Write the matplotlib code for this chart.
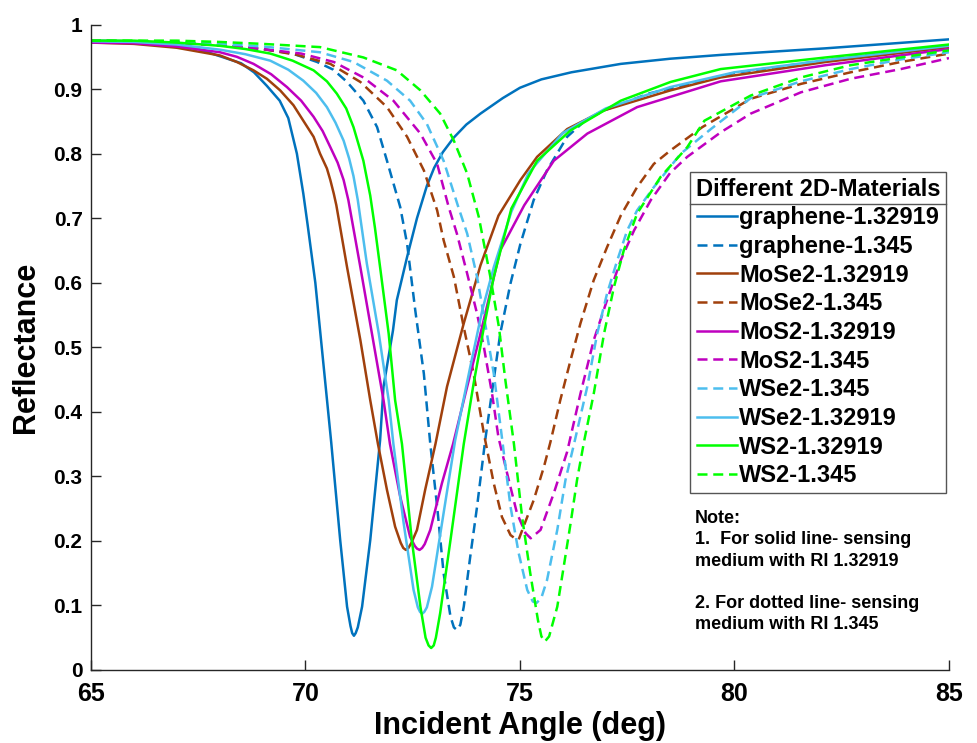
import matplotlib
matplotlib.use('Agg')
import matplotlib.pyplot as plt
from matplotlib.lines import Line2D

plt.rcParams['font.family'] = ['Liberation Sans', 'DejaVu Sans']
plt.rcParams['font.weight'] = 'bold'

# values (angle in deg, reflectance)
gr_sol_x = [65, 66, 67, 67.5, 68, 68.5, 68.8, 69.1, 69.4, 69.6, 69.8, 69.95, 70.05, 70.23, 70.38, 70.6, 70.81, 70.97,
            71.05, 71.09, 71.13, 71.17, 71.22, 71.32, 71.51, 71.74, 71.82, 72.04, 72.13, 72.37, 72.6, 72.83, 73.0,
            73.2, 73.46, 73.75, 74.08, 74.6, 75.0, 75.5, 76.2, 77.35, 78.5, 79.7, 82.1, 85]
gr_sol_y = [0.975, 0.974, 0.968, 0.962, 0.951, 0.94, 0.926, 0.905, 0.882, 0.855, 0.8, 0.738, 0.69, 0.6, 0.5, 0.353, 0.201, 0.098,
            0.068, 0.057, 0.053, 0.057, 0.066, 0.098, 0.201, 0.356, 0.439, 0.526, 0.573, 0.64, 0.7, 0.75, 0.778,
            0.802, 0.825, 0.845, 0.862, 0.886, 0.902, 0.915, 0.926, 0.939, 0.947, 0.953, 0.963, 0.977]

gr_dash_x = [65, 67, 68, 69, 69.7, 70.27, 70.65, 70.97, 71.35, 71.67, 71.9, 72.21, 72.37, 72.56, 72.76, 72.91, 73.07,
             73.22, 73.38, 73.46, 73.53, 73.61, 73.69, 73.84, 74.0, 74.19, 74.54, 74.78, 75.01, 75.32, 75.63,
             76.1, 76.5, 76.96, 78.0, 80.0, 82.5, 85]
gr_dash_y = [0.975, 0.972, 0.968, 0.962, 0.955, 0.942, 0.93, 0.911, 0.882, 0.841, 0.789, 0.717, 0.66, 0.557, 0.459, 0.35, 0.253,
             0.15, 0.083, 0.066, 0.062, 0.07, 0.098, 0.175, 0.253, 0.356, 0.521, 0.599, 0.66, 0.728, 0.774,
             0.826, 0.85, 0.867, 0.893, 0.925, 0.948, 0.968]

mose_sol_x = [65, 66, 67, 68.01, 68.4, 68.79, 69.1, 69.41, 69.72, 69.95, 70.19, 70.34, 70.5, 70.58, 70.66, 70.72, 70.97,
              71.28, 71.51, 71.69, 71.9, 72.09, 72.22, 72.28, 72.34, 72.4, 72.47, 72.6, 72.79, 73.03, 73.3, 73.69,
              74.08, 74.5, 75.01, 75.4, 76.1, 76.96, 78.51, 79.68, 82.13, 85]
mose_sol_y = [0.972, 0.97, 0.964, 0.952, 0.942, 0.929, 0.916, 0.898, 0.875, 0.851, 0.826, 0.8, 0.777, 0.759, 0.738, 0.72, 0.624,
              0.511, 0.418, 0.35, 0.279, 0.222, 0.197, 0.189, 0.186, 0.189, 0.197, 0.217, 0.279, 0.35, 0.439, 0.537,
              0.627, 0.704, 0.759, 0.795, 0.838, 0.867, 0.898, 0.918, 0.942, 0.965]

mose_dash_x = [65, 67, 68, 69, 69.8, 70.58, 71.28, 71.9, 72.37, 72.76, 73.07, 73.22, 73.46, 73.69, 73.92, 74.16,
               74.39, 74.58, 74.78, 74.88, 74.97, 75.1, 75.32, 75.56, 75.71, 75.94, 76.18, 76.41, 76.72, 77.03,
               77.35, 77.73, 78.12, 78.51, 79.25, 80.38, 81.55, 82.71, 83.88, 85]
mose_dash_y = [0.975, 0.972, 0.968, 0.962, 0.953, 0.939, 0.911, 0.872, 0.826, 0.774, 0.712, 0.666, 0.609, 0.531, 0.459, 0.366,
               0.289, 0.237, 0.209, 0.204, 0.202, 0.225, 0.263, 0.315, 0.353, 0.418, 0.48, 0.537, 0.604, 0.655,
               0.704, 0.748, 0.784, 0.805, 0.841, 0.885, 0.908, 0.926, 0.942, 0.955]

mos_sol_x = [65, 66, 67, 68.01, 68.4, 68.79, 69.2, 69.57, 69.9, 70.19, 70.4, 70.58, 70.75, 70.89, 71.0, 71.28, 71.55,
             71.82, 71.97, 72.21, 72.44, 72.55, 72.6, 72.66, 72.72, 72.78, 72.91, 73.18, 73.44, 73.77, 74.08,
             74.39, 74.54, 75.1, 75.79, 76.57, 77.73, 79.68, 82.13, 85]
mos_sol_y = [0.972, 0.971, 0.966, 0.957, 0.95, 0.939, 0.923, 0.903, 0.882, 0.857, 0.835, 0.81, 0.786, 0.759, 0.728, 0.624, 0.521,
             0.418, 0.35, 0.268, 0.206, 0.192, 0.188, 0.186, 0.189, 0.195, 0.217, 0.289, 0.35, 0.439, 0.521,
             0.608, 0.65, 0.72, 0.789, 0.831, 0.872, 0.912, 0.937, 0.962]

mos_dash_x = [65, 67, 68, 69, 69.9, 70.66, 71.35, 72.05, 72.68, 73.07, 73.34, 73.53, 73.77, 74.0, 74.16, 74.35,
              74.5, 74.74, 74.93, 75.13, 75.25, 75.48, 75.79, 76.1, 76.41, 76.72, 77.03, 77.35, 77.66, 78.05,
              78.5, 78.9, 79.68, 80.38, 81.55, 82.71, 83.88, 85]
mos_dash_y = [0.975, 0.972, 0.968, 0.962, 0.955, 0.942, 0.918, 0.882, 0.831, 0.784, 0.717, 0.676, 0.614, 0.552, 0.5, 0.428,
              0.36, 0.294, 0.243, 0.212, 0.204, 0.217, 0.274, 0.338, 0.428, 0.511, 0.573, 0.635, 0.681, 0.728,
              0.77, 0.795, 0.833, 0.862, 0.895, 0.916, 0.931, 0.948]

wse_dash_x = [65, 67, 68, 69, 70.34, 71.12, 71.9, 72.44, 72.83, 73.22, 73.55, 73.77, 74.0, 74.23, 74.39, 74.58,
              74.78, 74.97, 75.17, 75.3, 75.39, 75.5, 75.63, 75.87, 76.06, 76.26, 76.57, 76.8, 77.03, 77.27,
              77.5, 77.73, 78.12, 78.75, 79.45, 80.38, 81.55, 82.71, 83.88, 85]
wse_dash_y = [0.975, 0.973, 0.97, 0.966, 0.957, 0.942, 0.913, 0.882, 0.846, 0.789, 0.72, 0.676, 0.609, 0.521, 0.459, 0.36,
              0.253, 0.181, 0.124, 0.106, 0.104, 0.112, 0.139, 0.217, 0.294, 0.35, 0.439, 0.521, 0.583, 0.635,
              0.681, 0.712, 0.748, 0.8, 0.838, 0.886, 0.912, 0.931, 0.946, 0.957]

wse_sol_x = [65, 66, 67, 68.01, 68.6, 69.18, 69.6, 69.95, 70.25, 70.5, 70.7, 70.89, 71.02, 71.12, 71.22, 71.43, 71.71,
             71.94, 72.05, 72.29, 72.52, 72.62, 72.67, 72.72, 72.77, 72.83, 72.95, 73.22, 73.49, 73.84, 74.12,
             74.39, 74.8, 75.2, 76.0, 77.0, 78.5, 80.0, 82.13, 85]
wse_sol_y = [0.974, 0.973, 0.969, 0.961, 0.954, 0.944, 0.93, 0.913, 0.894, 0.872, 0.848, 0.82, 0.792, 0.765, 0.728, 0.63, 0.521,
             0.418, 0.35, 0.227, 0.124, 0.097, 0.09, 0.087, 0.09, 0.097, 0.129, 0.243, 0.356, 0.469, 0.557,
             0.624, 0.71, 0.77, 0.832, 0.87, 0.903, 0.926, 0.945, 0.967]

ws_sol_x = [65, 66, 67, 68.01, 68.6, 69.18, 69.7, 70.19, 70.5, 70.73, 70.95, 71.12, 71.35, 71.51, 71.62, 71.74, 71.94,
            72.09, 72.25, 72.48, 72.68, 72.8, 72.87, 72.93, 72.99, 73.04, 73.14, 73.38, 73.69, 73.92, 74.16,
            74.39, 74.8, 75.4, 76.18, 77.35, 78.51, 79.68, 82.13, 85]
ws_sol_y = [0.975, 0.975, 0.972, 0.967, 0.962, 0.955, 0.944, 0.929, 0.912, 0.893, 0.87, 0.841, 0.789, 0.735, 0.685, 0.624, 0.521,
            0.418, 0.35, 0.201, 0.098, 0.05, 0.038, 0.034, 0.038, 0.05, 0.088, 0.201, 0.35, 0.444, 0.531,
            0.609, 0.715, 0.789, 0.836, 0.882, 0.911, 0.931, 0.949, 0.969]

ws_dash_x = [65, 67, 68, 69, 70.34, 71.35, 72.13, 72.68, 73.14, 73.46, 73.77, 74.04, 74.31, 74.51, 74.66, 74.86,
             75.05, 75.24, 75.42, 75.5, 75.58, 75.68, 75.87, 76.02, 76.18, 76.33, 76.5, 76.72, 76.96, 77.19,
             77.42, 77.73, 78.28, 78.9, 79.3, 80.38, 81.55, 82.71, 83.88, 85]
ws_dash_y = [0.975, 0.975, 0.973, 0.97, 0.965, 0.949, 0.929, 0.898, 0.862, 0.82, 0.769, 0.702, 0.609, 0.531, 0.449, 0.35,
             0.237, 0.15, 0.077, 0.052, 0.044, 0.052, 0.098, 0.16, 0.227, 0.294, 0.356, 0.428, 0.521, 0.593,
             0.65, 0.707, 0.764, 0.81, 0.851, 0.89, 0.918, 0.937, 0.949, 0.96]

c_gr = '#0072BD'
c_mose = '#A0400C'
c_mos = '#BF00BF'
c_wse = '#4DBEEE'
c_ws = '#00FF00'

fig = plt.figure(figsize=(9.78, 7.43), dpi=100)
ax = fig.add_axes([0.093, 0.0983, 0.8773, 0.8687])

lw = 1.8
dsh = (4.0, 2.3)
ax.plot(gr_sol_x, gr_sol_y, color=c_gr, lw=lw, label='graphene-1.32919')
ax.plot(gr_dash_x, gr_dash_y, color=c_gr, lw=lw, ls='--', dashes=dsh, label='graphene-1.345')
ax.plot(mose_sol_x, mose_sol_y, color=c_mose, lw=lw, label='MoSe2-1.32919')
ax.plot(mose_dash_x, mose_dash_y, color=c_mose, lw=lw, ls='--', dashes=dsh, label='MoSe2-1.345')
ax.plot(mos_sol_x, mos_sol_y, color=c_mos, lw=lw, label='MoS2-1.32919')
ax.plot(mos_dash_x, mos_dash_y, color=c_mos, lw=lw, ls='--', dashes=dsh, label='MoS2-1.345')
ax.plot(wse_dash_x, wse_dash_y, color=c_wse, lw=lw, ls='--', dashes=dsh, label='WSe2-1.345')
ax.plot(wse_sol_x, wse_sol_y, color=c_wse, lw=lw, label='WSe2-1.32919')
ax.plot(ws_sol_x, ws_sol_y, color=c_ws, lw=lw, label='WS2-1.32919')
ax.plot(ws_dash_x, ws_dash_y, color=c_ws, lw=lw, ls='--', dashes=dsh, label='WS2-1.345')

ax.set_xlim(65, 85)
ax.set_ylim(0, 1)
ax.set_xticks([65, 70, 75, 80, 85])
yt = [0, 0.1, 0.2, 0.3, 0.4, 0.5, 0.6, 0.7, 0.8, 0.9, 1]
ax.set_yticks(yt)
ax.set_yticklabels(['0' if v == 0 else '1' if v == 1 else '%g' % v for v in yt])
ax.spines['top'].set_visible(False)
ax.spines['right'].set_visible(False)
for s in ['left', 'bottom']:
    ax.spines[s].set_color('#262626')
    ax.spines[s].set_linewidth(1.0)
ax.tick_params(axis='both', direction='in', length=7, width=1.0, color='#262626')
ax.tick_params(axis='x', labelsize=18, pad=9)
ax.tick_params(axis='y', labelsize=15, pad=6)

ax.set_xlabel('Incident Angle (deg)', fontsize=22, fontweight='bold', labelpad=3)
ax.set_ylabel('Reflectance', fontsize=22, fontweight='bold', labelpad=9)

leg = ax.legend(loc='upper right', bbox_to_anchor=(0.9965, 0.772), borderaxespad=0,
                fontsize=17, title='Different 2D-Materials',
                title_fontproperties={'weight': 'bold', 'size': 17},
                handlelength=1.7, handletextpad=0.1, labelspacing=0.24,
                borderpad=0.25, fancybox=False, framealpha=1, edgecolor='#555555')
leg.get_frame().set_linewidth(1.0)

note = ('Note:\n1.  For solid line- sensing\nmedium with RI 1.32919\n\n'
        '2. For dotted line- sensing\nmedium with RI 1.345')
fig.text(695 / 978, 1 - 510 / 743, note, fontsize=13, fontweight='bold',
         va='top', ha='left', linespacing=1.33)

# line under the legend title, as in the original
fig.canvas.draw()
fr = leg.get_frame().get_window_extent()
tb = leg.get_title().get_window_extent()
yl = tb.y0 - 3
inv = ax.transAxes.inverted()
p0 = inv.transform((fr.x0, yl))
p1 = inv.transform((fr.x1, yl))
sep = Line2D([p0[0], p1[0]], [p0[1], p1[1]], color='#555555', lw=1.0,
             transform=ax.transAxes, clip_on=False, zorder=10)
ax.add_line(sep)

fig.savefig('out.png', dpi=100)
